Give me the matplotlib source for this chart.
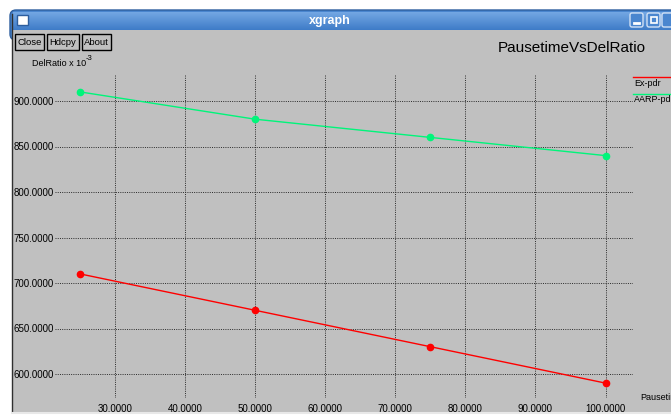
import numpy as np
import matplotlib
matplotlib.use("Agg")
import matplotlib.pyplot as plt
from matplotlib.patches import Rectangle, FancyBboxPatch

plt.rcParams['font.family'] = ['Liberation Sans', 'DejaVu Sans']

# pause time vs delivery ratio (x 10^-3)
pause = [25, 50, 75, 100]
ex_pdr = [710, 670, 630, 590]
aarp_pdr = [910, 880, 860, 840]
series_names = ["Ex-pdr", "AARP-pdr"]
series_colors = ["#ff0000", "#00f57a"]

xticks = [30, 40, 50, 60, 70, 80, 90, 100]
yticks = [600, 650, 700, 750, 800, 850, 900]

W, H = 671, 417
fig = plt.figure(figsize=(W / 100, H / 100), dpi=100)

# window chrome, in pixel coords
bg = fig.add_axes([0, 0, 1, 1])
bg.set_xlim(0, W)
bg.set_ylim(H, 0)
bg.axis("off")
bg.add_patch(Rectangle((0, 0), W, H, color="white"))
grad = np.linspace(0, 1, 40).reshape(-1, 1)
bg.add_patch(FancyBboxPatch((10, 10), W, 30, boxstyle="round,pad=0,rounding_size=6",
                            fc="#4a86cf", ec="#2d5e9e", lw=1))
bg.imshow(grad, cmap=matplotlib.colors.LinearSegmentedColormap.from_list(
    "bar", ["#73a7e3", "#3f7cc8"]), extent=(13, W, 30, 12), aspect="auto", zorder=2)
bg.add_patch(Rectangle((12, 30), W, 382, fc="#c0c0c0", ec="none", zorder=3))
bg.plot([11.5, 11.5], [14, 412], color="#303030", lw=1, zorder=4)
bg.plot([12, W], [412.5, 412.5], color="#e8e8e8", lw=1.5, zorder=4)
bg.text(330, 21, "xgraph", color="white", fontsize=9, fontweight="bold",
        ha="center", va="center", zorder=5)
# window icon and control boxes
bg.add_patch(Rectangle((17, 15), 11, 10, fc="white", ec="#2d5e9e", lw=1, zorder=5))
for x0 in [630, 647, 662]:
    bg.add_patch(FancyBboxPatch((x0, 13), 13, 14, boxstyle="round,pad=0,rounding_size=2",
                                fc="#4a86cf", ec="#d0e0f5", lw=1, zorder=5))
bg.plot([634, 639], [23, 23], color="white", lw=2, zorder=6)
bg.add_patch(Rectangle((651, 17), 6, 6, fc="none", ec="white", lw=1.2, zorder=6))

# buttons
for x0, w, lab in [(15, 29, "Close"), (47, 32, "Hdcpy"), (82, 29, "About")]:
    bg.add_patch(Rectangle((x0, 34), w, 16, fc="#c0c0c0", ec="black", lw=1, zorder=5))
    bg.text(x0 + w / 2, 42.5, lab, fontsize=6.8, ha="center", va="center", zorder=6)

bg.text(32, 63, "DelRatio x 10", fontsize=6.5, ha="left", va="center", zorder=6)
bg.text(85.5, 58.5, "-3", fontsize=5.5, ha="left", va="center", zorder=6)
bg.text(572, 48, "PausetimeVsDelRatio", fontsize=11, ha="center", va="center", zorder=6)
bg.text(640, 397, "Pausetime", fontsize=6.5, ha="left", va="center", zorder=6)

# legend at the right edge
for i, (name, c) in enumerate(zip(series_names, series_colors)):
    y0 = 77 + i * 16.5
    bg.plot([633, W], [y0, y0], color=c, lw=1, zorder=6)
    bg.text(634, y0 + 6, name, fontsize=6.5, ha="left", va="center", zorder=6)

# plot area: 25 -> px 80, 100 -> px 605.5 ; 900 -> px 101, 600 -> px 374
px_x = (605.5 - 80) / 75
px_y = (374 - 101) / 300
left, right, top, bottom = 55, 633, 75, 398
xmin = 25 - (80 - left) / px_x
xmax = 100 + (right - 605.5) / px_x
ymax = 900 + (101 - top) / px_y
ymin = 600 - (bottom - 374) / px_y

ax = fig.add_axes([left / W, 1 - bottom / H, (right - left) / W, (bottom - top) / H])
ax.set_facecolor("none")
ax.set_xlim(xmin, xmax)
ax.set_ylim(ymin, ymax)
for s in ax.spines.values():
    s.set_visible(False)
ax.set_xticks(xticks)
ax.set_yticks(yticks)
ax.set_xticklabels(["%.4f" % v for v in xticks])
ax.set_yticklabels(["%.4f" % v for v in yticks])
ax.tick_params(length=0, labelsize=7, pad=1)
ax.tick_params(axis="x", pad=4)
ax.grid(True, color="#2a2a2a", linestyle=(0, (1, 1.3)), lw=0.7)

for ys, c in zip([ex_pdr, aarp_pdr], series_colors):
    ax.plot(pause, ys, color=c, lw=1, marker="o", ms=4.5, mec=c, mfc=c, clip_on=False, zorder=3)

fig.savefig("out.png", dpi=100)
